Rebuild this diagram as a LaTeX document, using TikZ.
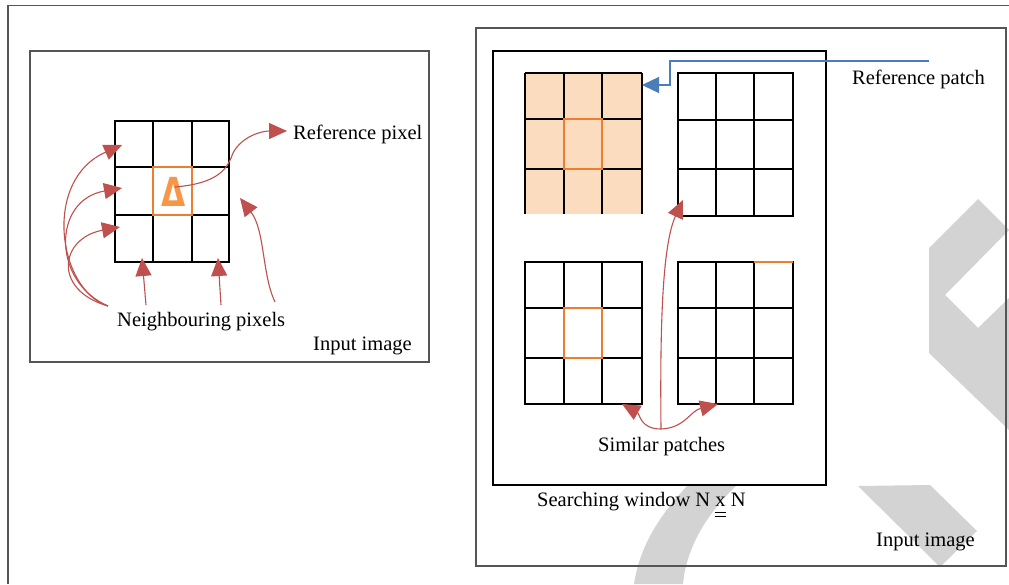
\documentclass[tikz,border=0pt]{standalone}
\usepackage{fontspec}
\setmainfont{Liberation Serif}
\newfontfamily\deltafont{DejaVu Sans}
\usetikzlibrary{arrows.meta}
\definecolor{arrred}{HTML}{C0504D}
\definecolor{arrblue}{HTML}{4A7EBB}
\definecolor{cellorange}{HTML}{ED7D31}
\definecolor{deltaorange}{HTML}{F79646}
\definecolor{peach}{HTML}{FCDCBF}
\definecolor{wmgray}{HTML}{D3D3D3}
\definecolor{framegray}{HTML}{555555}
\newcommand\mydblul[1]{\setbox0\hbox{#1}\rlap{\hbox to \wd0{\hss\rule[-7.2pt]{1.15\wd0}{0.9pt}\hss}}\rlap{\hbox to \wd0{\hss\rule[-10.6pt]{1.15\wd0}{0.9pt}\hss}}\box0\relax}
\newcommand\mygridthree[8]{%
  \draw[gridline] (#1,#5) rectangle (#4,#8);
  \draw[gridline] (#2,#5) -- (#2,#8) (#3,#5) -- (#3,#8) (#1,#6) -- (#4,#6) (#1,#7) -- (#4,#7);}
\tikzset{
  lbl/.style={inner sep=0pt, anchor=base west, font=\fontsize{20.5}{24}\selectfont},
  gridline/.style={line width=1.8pt, draw=black},
  orangecell/.style={line width=1.8pt, draw=cellorange},
  redarrow/.style={draw=arrred, line width=1.1pt, -{Triangle[length=18pt,width=16pt]}},
  bluearrow/.style={draw=arrblue, line width=1.3pt, -{Triangle[length=17pt,width=16pt]}},
  inbox/.style={draw=framegray, line width=1.4pt},
  searchwin/.style={draw=black, line width=2pt, fill=white},
  wm/.style={fill=wmgray, draw=none},
}
\begin{document}
\begin{tikzpicture}[x=1pt,y=-1pt]
\useasboundingbox[fill=white] (0,0) rectangle (1009,584);
% outer frame
\draw[framegray, line width=1.4pt] (1009,5.5) -- (8,5.5) -- (8,584);
% watermark
\fill[wm] (929,248) -- (978,199) -- (1009,230) -- (945,295) -- (978,328) -- (1009,298) -- (1009,430) -- (929,353) -- cycle;
\fill[wm] (858,486) -- (930,485) -- (977,531) -- (940,567) -- cycle;
\fill[wm] (688,485) .. controls (660,515) and (640,545) .. (634,584) -- (683,584) .. controls (686,550) and (705,515) .. (737,485) -- cycle;
% boxes
\draw[inbox] (30,51) rectangle (429,362);
\draw[inbox] (476,28) rectangle (1006,566);
\draw[searchwin] (493,51) rectangle (826,485);

% ---------- left part ----------
\mygridthree{115}{153}{192}{229}{121}{167}{215}{262}
\draw[orangecell] (153,167) rectangle (192,215);
\node[text=deltaorange, font=\deltafont\bfseries\fontsize{40}{40}\selectfont, xscale=0.78, inner sep=0pt] (delta) at (174,192) {Δ};

\node[lbl] (refpix) at (293,139) {Reference pixel};
\node[lbl] (neigh) at (117,326) {Neighbouring pixels};
\node[lbl] (inimg1) at (313,350) {Input image};

\coordinate (rpstart) at (175,187);
\coordinate (rptip) at (287,131);
\coordinate (npstart) at (108,306);
\coordinate (nt1) at (122,145);
\coordinate (nt2) at (122,188);
\coordinate (nt3) at (120,227);
\coordinate (nb1s) at (146,305);
\coordinate (nb1t) at (142,258);
\coordinate (nb2s) at (221,305);
\coordinate (nb2t) at (218,258);
\coordinate (nr1s) at (275,302);
\coordinate (nr1t) at (240,198);

\draw[redarrow] (rpstart) .. controls (222,183) and (228,166) .. (233,153) .. controls (242,136) and (262,131) .. (rptip);
\draw[redarrow] (npstart) .. controls (58,290) and (42,180) .. (nt1);
\draw[redarrow] (npstart) .. controls (52,282) and (52,200) .. (nt2);
\draw[redarrow] (npstart) .. controls (52,290) and (60,238) .. (nt3);
\draw[redarrow] (nb1s) -- (nb1t);
\draw[redarrow] (nb2s) -- (nb2t);
\draw[redarrow] (nr1s) .. controls (262,275) and (265,230) .. (nr1t);

% ---------- right part ----------
% reference patch
\fill[peach] (525,73) rectangle (642,214);
\draw[gridline] (525,73) -- (642,73) (525,119) -- (642,119) (525,169) -- (642,169);
\draw[gridline] (525,73) -- (525,214) (564,73) -- (564,214) (602,73) -- (602,214) (642,73) -- (642,214);
\draw[orangecell] (564,119) rectangle (602,169);
% other patches
\mygridthree{678}{716}{754}{793}{73}{120}{169}{216}
\mygridthree{525}{564}{602}{642}{262}{308}{358}{404}
\draw[orangecell] (564,308) rectangle (602,358);
\mygridthree{678}{716}{754}{793}{262}{308}{358}{404}
\draw[orangecell] (754,262) -- (793,262);

\node[lbl] (refpatch) at (852,84) {Reference patch};
\node[lbl] (simpat) at (598,451) {Similar patches};
\node[lbl] (search) at (537,506) {Searching window N \mydblul{x} N};
\node[lbl] (inimg2) at (876,546) {Input image};

\coordinate (bstart) at (929,61);
\coordinate (btip) at (642,85);
\draw[bluearrow] (bstart) -- (670,61) -- (670,85) -- (btip);

\coordinate (sp) at (661,429);
\coordinate (st1) at (683,200);
\coordinate (st2) at (622,404);
\coordinate (st3) at (718,404);
\draw[redarrow] (sp) .. controls (660,330) and (662,245) .. (st1);
\draw[redarrow] (sp) .. controls (640,429) and (640,414) .. (st2);
\draw[redarrow] (sp) .. controls (685,428) and (690,411) .. (st3);
\end{tikzpicture}
\end{document}
